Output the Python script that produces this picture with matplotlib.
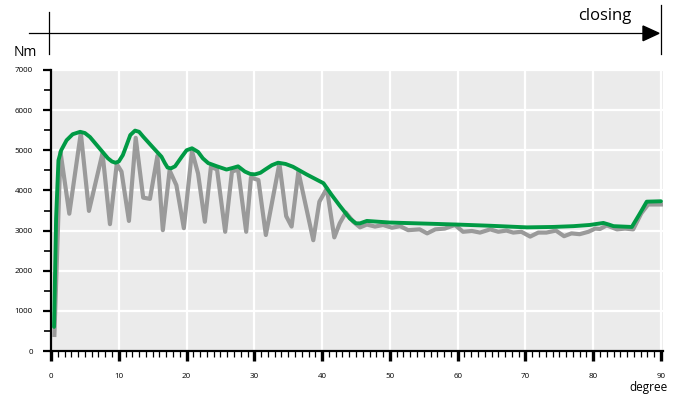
import numpy as np
import matplotlib
matplotlib.use('Agg')
import matplotlib.pyplot as plt
from matplotlib.lines import Line2D
from matplotlib.patches import Polygon
from matplotlib.ticker import MultipleLocator

plt.rcParams['font.family'] = ['Open Sans', 'DejaVu Sans']

# measured torque (grey)
deg_raw = [0.5, 1.4, 2.7, 4.4, 5.6, 7.6, 8.7, 9.7, 10.4, 11.5, 12.5, 13.6, 14.6, 15.7,
           16.5, 17.5, 18.5, 19.6, 20.8, 21.7, 22.7, 23.6, 24.5, 25.7, 26.7, 27.6, 28.8,
           29.5, 30.6, 31.7, 33.7, 34.7, 35.5, 36.5, 38.7, 39.6, 40.7, 41.8, 42.6, 43.5,
           44.6, 45.6, 46.6, 47.8, 49.0, 50.3, 51.5, 52.7, 54.4, 55.5, 56.7, 58.1, 59.6,
           60.8, 62.1, 63.3, 64.8, 66.0, 67.2, 68.2, 69.4, 70.7, 71.9, 73.1, 74.5, 75.7,
           76.8, 78.0, 79.3, 80.3, 81.0, 82.0, 83.5, 84.7, 85.9, 87.1, 88.1, 90.0]
nm_raw = [400, 4960, 3420, 5430, 3490, 4930, 3160, 4660, 4470, 3240, 5310, 3820, 3790, 4860,
          3010, 4500, 4130, 3060, 4980, 4420, 3220, 4590, 4520, 2970, 4470, 4520, 2970,
          4320, 4260, 2890, 4670, 3360, 3100, 4470, 2760, 3720, 4050, 2830, 3180, 3450,
          3220, 3080, 3150, 3100, 3140, 3070, 3110, 3010, 3030, 2930, 3030, 3050, 3140,
          2970, 2990, 2950, 3030, 2970, 3000, 2950, 2970, 2850, 2950, 2950, 3000, 2860,
          2930, 2910, 2970, 3050, 3040, 3130, 3030, 3050, 3030, 3430, 3650, 3650]

# envelope (green)
deg_env = [0.45, 0.75, 1.1, 1.5, 2.3, 3.2, 4.3, 5.0, 5.75, 7.2, 8.4, 9.0, 9.5, 10.0, 10.6,
           11.2, 11.7, 12.4, 13.0, 13.6, 15.1, 16.3, 16.8, 17.2, 17.7, 18.3, 19.3, 20.0,
           20.8, 21.7, 22.4, 23.2, 24.5, 25.9, 26.8, 27.6, 28.6, 29.4, 30.1, 30.9, 31.6,
           32.6, 33.5, 34.6, 35.7, 37.7, 40.2, 41.4, 42.6, 44.1, 45.0, 45.6, 46.6, 50.0,
           56.0, 59.9, 64.8, 70.2, 74.0, 77.1, 79.5, 81.5, 82.3, 83.0, 85.7, 86.8, 87.9,
           90.0]
nm_env = [600, 3300, 4750, 5000, 5250, 5400, 5460, 5430, 5330, 5040, 4800, 4720, 4690, 4720,
          4880, 5150, 5380, 5490, 5460, 5340, 5060, 4840, 4680, 4570, 4550, 4600, 4840, 5000,
          5050, 4960, 4800, 4680, 4600, 4520, 4560, 4600, 4470, 4410, 4400, 4440, 4520,
          4630, 4690, 4660, 4590, 4400, 4180, 3890, 3620, 3300, 3180, 3180, 3240, 3200,
          3170, 3150, 3120, 3080, 3090, 3110, 3140, 3190, 3150, 3110, 3090, 3400, 3720,
          3730]

fig = plt.figure(figsize=(6.78, 4.0), dpi=100)
W, H = 678.0, 400.0
ax = fig.add_axes([51 / W, 49 / H, 612 / W, 281 / H])
ax.set_facecolor('#ebebeb')

ax.plot(deg_raw, nm_raw, color='#9a9a9a', lw=3.0, zorder=3)
ax.plot(deg_env, nm_env, color='#009a44', lw=2.8, zorder=4, solid_capstyle='round')

ax.set_xlim(0, 90.3)
ax.set_ylim(0, 7000)
ax.xaxis.set_major_locator(MultipleLocator(10))
ax.xaxis.set_minor_locator(MultipleLocator(1))
ax.yaxis.set_major_locator(MultipleLocator(1000))
ax.yaxis.set_minor_locator(MultipleLocator(500))
ax.grid(True, which='major', color='white', lw=1.6, zorder=1)
ax.set_axisbelow(True)

for s in ['top', 'right']:
    ax.spines[s].set_visible(False)
for s in ['left', 'bottom']:
    ax.spines[s].set_linewidth(1.6)
    ax.spines[s].set_color('black')

ax.tick_params(axis='x', which='major', length=7, width=2.4, pad=9, labelsize=5.8)
ax.tick_params(axis='x', which='minor', length=4, width=0.9)
ax.tick_params(axis='y', which='major', length=6, width=1.6, pad=7, labelsize=5.8)
ax.tick_params(axis='y', which='minor', length=5, width=1.2)

# header arrow and markers
def fx(px):
    return px / W

def fy(py):
    return 1 - py / H

fig.add_artist(Line2D([fx(29), fx(646)], [fy(33.3), fy(33.3)], color='black', lw=0.9,
                      transform=fig.transFigure))
fig.add_artist(Polygon([[fx(643), fy(26)], [fx(643), fy(40.7)], [fx(659), fy(33.3)]],
                       closed=True, color='black', transform=fig.transFigure))
fig.add_artist(Line2D([fx(48.7), fx(48.7)], [fy(12), fy(54)], color='black', lw=0.9,
                      transform=fig.transFigure))
fig.add_artist(Line2D([fx(661), fx(661)], [fy(5), fy(54)], color='black', lw=0.9,
                      transform=fig.transFigure))

fig.text(fx(605), fy(16), 'closing', ha='center', va='center', fontsize=12)
fig.text(fx(25), fy(52), 'Nm', ha='center', va='center', fontsize=10)
fig.text(fx(648), fy(387), 'degree', ha='center', va='center', fontsize=8.5)

fig.savefig('out.png', dpi=100)
